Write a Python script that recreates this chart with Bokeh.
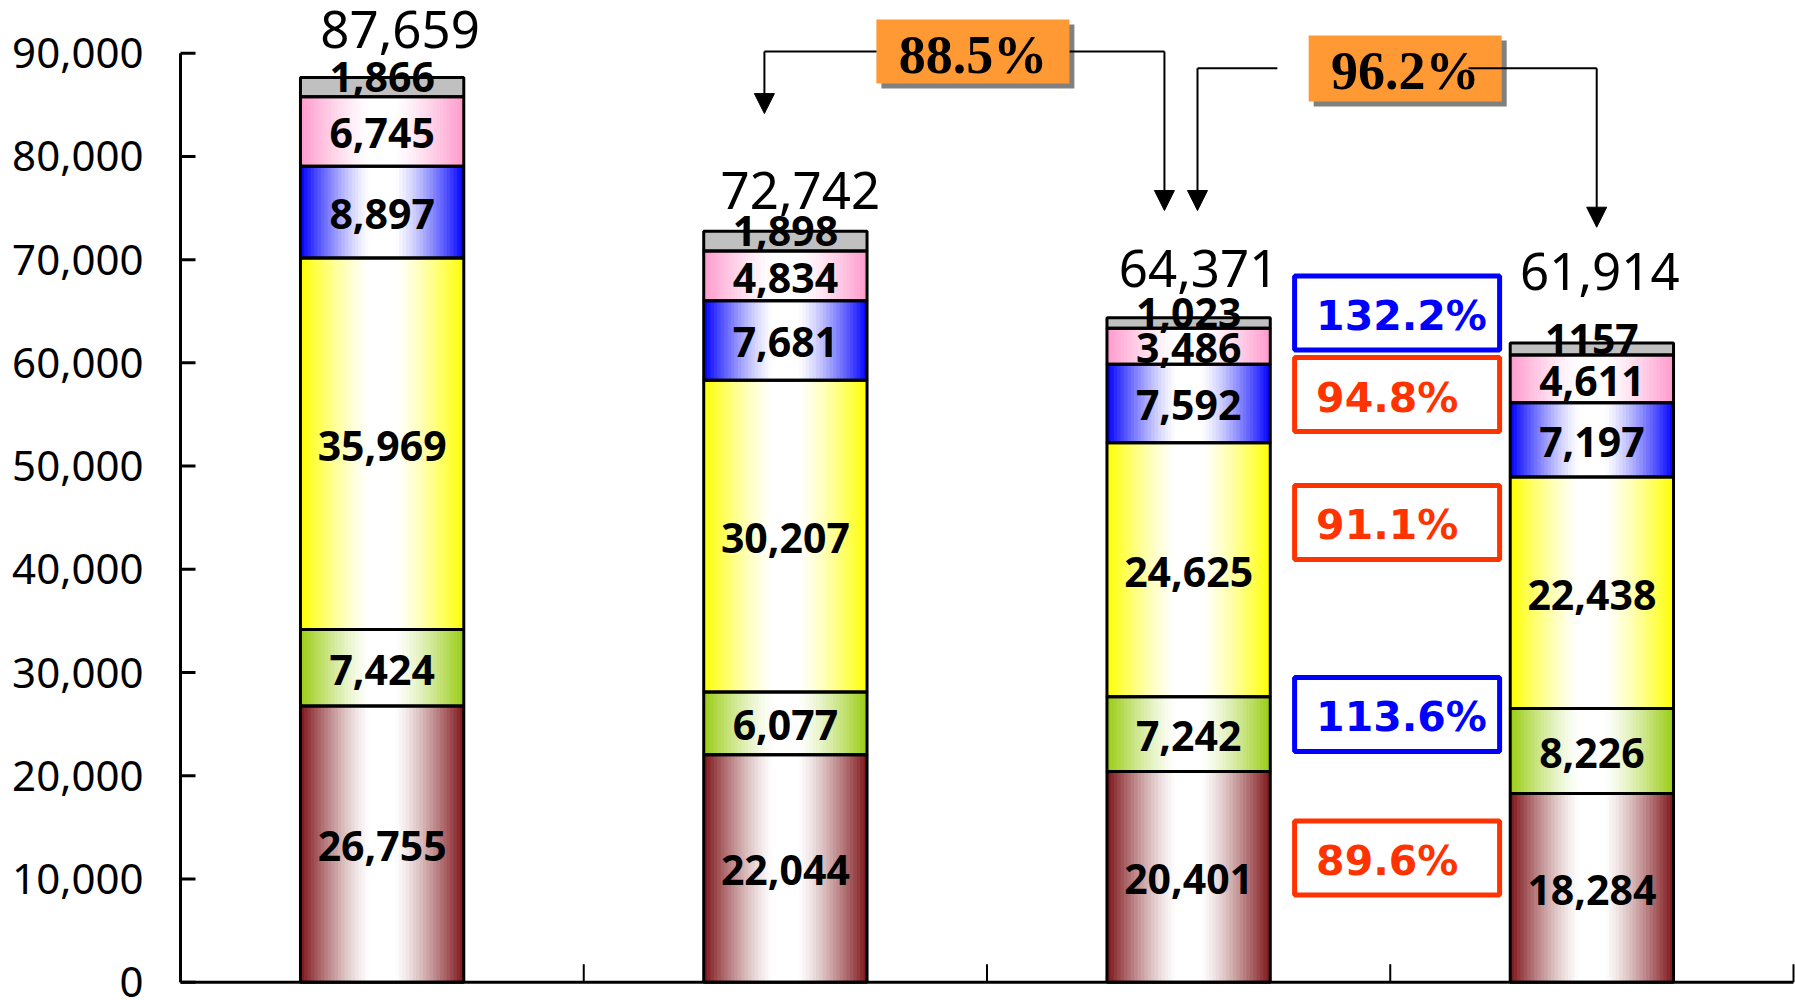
import numpy as np
from bokeh.plotting import figure
from bokeh.models import (ColumnDataSource, FixedTicker, NumeralTickFormatter,
                          Range1d, Arrow, NormalHead)
from bokeh.core.properties import value
from bokeh.embed import file_html
from bokeh.resources import INLINE

# ---- data: stacked segments, bottom to top, one value per bar ----
seg_maroon = [26755, 22044, 20401, 18284]
seg_green = [7424, 6077, 7242, 8226]
seg_yellow = [35969, 30207, 24625, 22438]
seg_blue = [8897, 7681, 7592, 7197]
seg_pink = [6745, 4834, 3486, 4611]
seg_gray = [1866, 1898, 1023, 1157]
totals = [87659, 72742, 64371, 61914]
gray_labels = ["1,866", "1,898", "1,023", "1157"]
y_ticks = [0, 10000, 20000, 30000, 40000, 50000, 60000, 70000, 80000, 90000]

# percentage changes, last bar vs third bar (pink, blue, yellow, green, maroon)
ratio_pct = [132.2, 94.8, 91.1, 113.6, 89.6]
# total-to-total changes (bar 2 -> bar 3, bar 3 -> bar 4)
total_pct = [88.5, 96.2]

series = [seg_maroon, seg_green, seg_yellow, seg_blue, seg_pink, seg_gray]
series_colors = ["#7d1418", "#99cc11", "#ffff00", "#0000ff", "#ff99cc", "#c0c0c0"]
series_gradient = [True, True, True, True, True, False]

# ---- layout ----
W, H = 1795, 1000
LEFT_PX = 172            # width of the y-axis label panel
AXIS_GAP_PX = 8          # axis line sits slightly inside the frame
CAT_PX = 403.25          # pixels per category slot
PX_PER_UNIT = 929 / 90000
BASE_PX = 981.7          # baseline distance from the top edge
BAR_W = 0.405

x_start = -AXIS_GAP_PX / CAT_PX
x_end = x_start + (W - LEFT_PX) / CAT_PX
y_start = -(H - BASE_PX) / PX_PER_UNIT
y_end = y_start + H / PX_PER_UNIT

p = figure(width=W, height=H, output_backend="svg", toolbar_location=None,
           x_range=Range1d(x_start, x_end), y_range=Range1d(y_start, y_end),
           x_axis_location=None, min_border=0, min_border_left=LEFT_PX)
p.outline_line_color = None
p.grid.visible = False
p.background_fill_color = "white"
p.border_fill_color = "white"

yax = p.yaxis[0]
yax.ticker = FixedTicker(ticks=y_ticks)
yax.formatter = NumeralTickFormatter(format="0,0")
yax.axis_line_color = None
yax.major_tick_line_color = None
yax.minor_tick_line_color = None
yax.major_tick_in = 0
yax.major_tick_out = 0
yax.major_label_standoff = 29
yax.major_label_text_font = "Noto Sans"
yax.major_label_text_font_size = "42px"
yax.major_label_text_color = "black"


def mix_white(hex_color, f):
    r, g, b = (int(hex_color[i:i + 2], 16) for i in (1, 3, 5))
    r = round(255 + (r - 255) * f)
    g = round(255 + (g - 255) * f)
    b = round(255 + (b - 255) * f)
    return "#%02x%02x%02x" % (r, g, b)


n_bars = len(totals)
centers = [i + 0.5 for i in range(n_bars)]

# ---- stacked bars with a horizontal white-centre gradient ----
strips = dict(left=[], right=[], bottom=[], top=[], color=[])
outline = dict(left=[], right=[], bottom=[], top=[])
labels = dict(x=[], y=[], text=[], dy=[])
N_STRIPS = 48
for i, c in enumerate(centers):
    base = 0
    for s, vals in enumerate(series):
        v = vals[i]
        lo, hi = base, base + v
        l, r = c - BAR_W / 2, c + BAR_W / 2
        if series_gradient[s]:
            dw = BAR_W / N_STRIPS
            for j in range(N_STRIPS):
                sl = l + j * dw
                mid = sl + dw / 2
                t = abs(mid - c) / (BAR_W / 2)
                f = min(max((t - 0.15) / 0.85, 0.0), 1.0) ** 1.3
                strips["left"].append(sl)
                strips["right"].append(min(sl + dw * 1.35, r))
                strips["bottom"].append(lo)
                strips["top"].append(hi)
                strips["color"].append(mix_white(series_colors[s], f))
        else:
            strips["left"].append(l)
            strips["right"].append(r)
            strips["bottom"].append(lo)
            strips["top"].append(hi)
            strips["color"].append(series_colors[s])
        outline["left"].append(l)
        outline["right"].append(r)
        outline["bottom"].append(lo)
        outline["top"].append(hi)
        labels["x"].append(c)
        labels["y"].append((lo + hi) / 2)
        if s == len(series) - 1:
            labels["text"].append(gray_labels[i])
            labels["dy"].append(-10)
        else:
            labels["text"].append(f"{v:,}")
            labels["dy"].append(2)
        base = hi

p.quad(left="left", right="right", bottom="bottom", top="top",
       source=ColumnDataSource(strips), fill_color="color", line_color=None)
p.quad(left="left", right="right", bottom="bottom", top="top",
       source=ColumnDataSource(outline), fill_color=None,
       line_color="black", line_width=3)
p.text(x="x", y="y", text="text", y_offset="dy", source=ColumnDataSource(labels),
       text_font=value("Noto Sans"), text_font_size="41px", text_font_style="bold",
       text_align="center", text_baseline="middle", text_color="black")

# totals above each bar
stack_tops = [sum(vals[i] for vals in series) for i in range(n_bars)]
total_dx = [18, 15, 10, 8]
total_dy = [-48, -41, -49, -72]
p.text(x=centers, y=stack_tops, text=[f"{t:,}" for t in totals],
       x_offset=total_dx, y_offset=total_dy,
       text_font=value("Noto Sans"), text_font_size="51px",
       text_align="center", text_baseline="alphabetic", text_color="black")

# ---- axes drawn as lines with inward ticks ----
p.segment(x0=0, y0=0, x1=0, y1=y_ticks[-1], line_color="black", line_width=3)
p.segment(x0=0, y0=0, x1=n_bars, y1=0, line_color="black", line_width=3)
p.ray(x=[0] * len(y_ticks), y=y_ticks, length=15, length_units="screen",
      angle=0, line_color="black", line_width=3)
p.ray(x=list(range(1, n_bars + 1)), y=[0] * n_bars, length=18,
      length_units="screen", angle=np.pi / 2, line_color="black", line_width=2)

# ---- segment-by-segment change between the last two bars ----
ratio_box_y = [64830, 56935, 44535, 25935, 12030]
ratio_box_x = 3.017
ratio_cols = ["#0000ff" if r > 100 else "#ff3300" for r in ratio_pct]
p.rect(x=[ratio_box_x] * len(ratio_pct), y=ratio_box_y, width=205, height=74,
       width_units="screen", height_units="screen",
       fill_color="white", line_color=ratio_cols, line_width=5)
p.text(x=[ratio_box_x] * len(ratio_pct), y=ratio_box_y,
       text=[f"{r:.1f}%" for r in ratio_pct], x_offset=-81, y_offset=3,
       text_color=ratio_cols, text_font=value("DejaVu Sans"),
       text_font_size="41px", text_font_style="bold",
       text_align="left", text_baseline="middle")

# ---- total-to-total change callouts ----
callout_x = [1.965, 3.037]
callout_y = [90160, 88520]
callout_h = [64, 66]
shadow_dx = 5 / CAT_PX
shadow_dy = -5 / PX_PER_UNIT
p.rect(x=[x + shadow_dx for x in callout_x], y=[y + shadow_dy for y in callout_y],
       width=193, height=callout_h, width_units="screen", height_units="screen",
       fill_color="#808080", line_color=None)
p.rect(x=callout_x, y=callout_y, width=193, height=callout_h,
       width_units="screen", height_units="screen",
       fill_color="#ff9933", line_color=None)
p.text(x=callout_x, y=callout_y, text=[f"{r:.1f}%" for r in total_pct],
       y_offset=3, text_font=value("Liberation Serif"), text_font_size="54px",
       text_font_style="bold", text_align="center", text_baseline="middle",
       text_color="black")

# elbow connectors: horizontal run, then a downward arrow
elbows = [
    ([1.726, 1.448], 90160, 84150),
    ([2.205, 2.440], 90160, 74760),
    ([2.720, 2.522], 88550, 74760),
    ([3.194, 3.512], 88550, 73140),
]
p.multi_line(xs=[e[0] for e in elbows], ys=[[e[1], e[1]] for e in elbows],
             line_color="black", line_width=2)
for xs, y0, y1 in elbows:
    p.add_layout(Arrow(x_start=xs[1], y_start=y0, x_end=xs[1], y_end=y1,
                       line_color="black", line_width=2,
                       end=NormalHead(size=20, fill_color="black",
                                      line_color="black", line_width=1)))

open("out.html", "w").write(file_html(p, INLINE))
